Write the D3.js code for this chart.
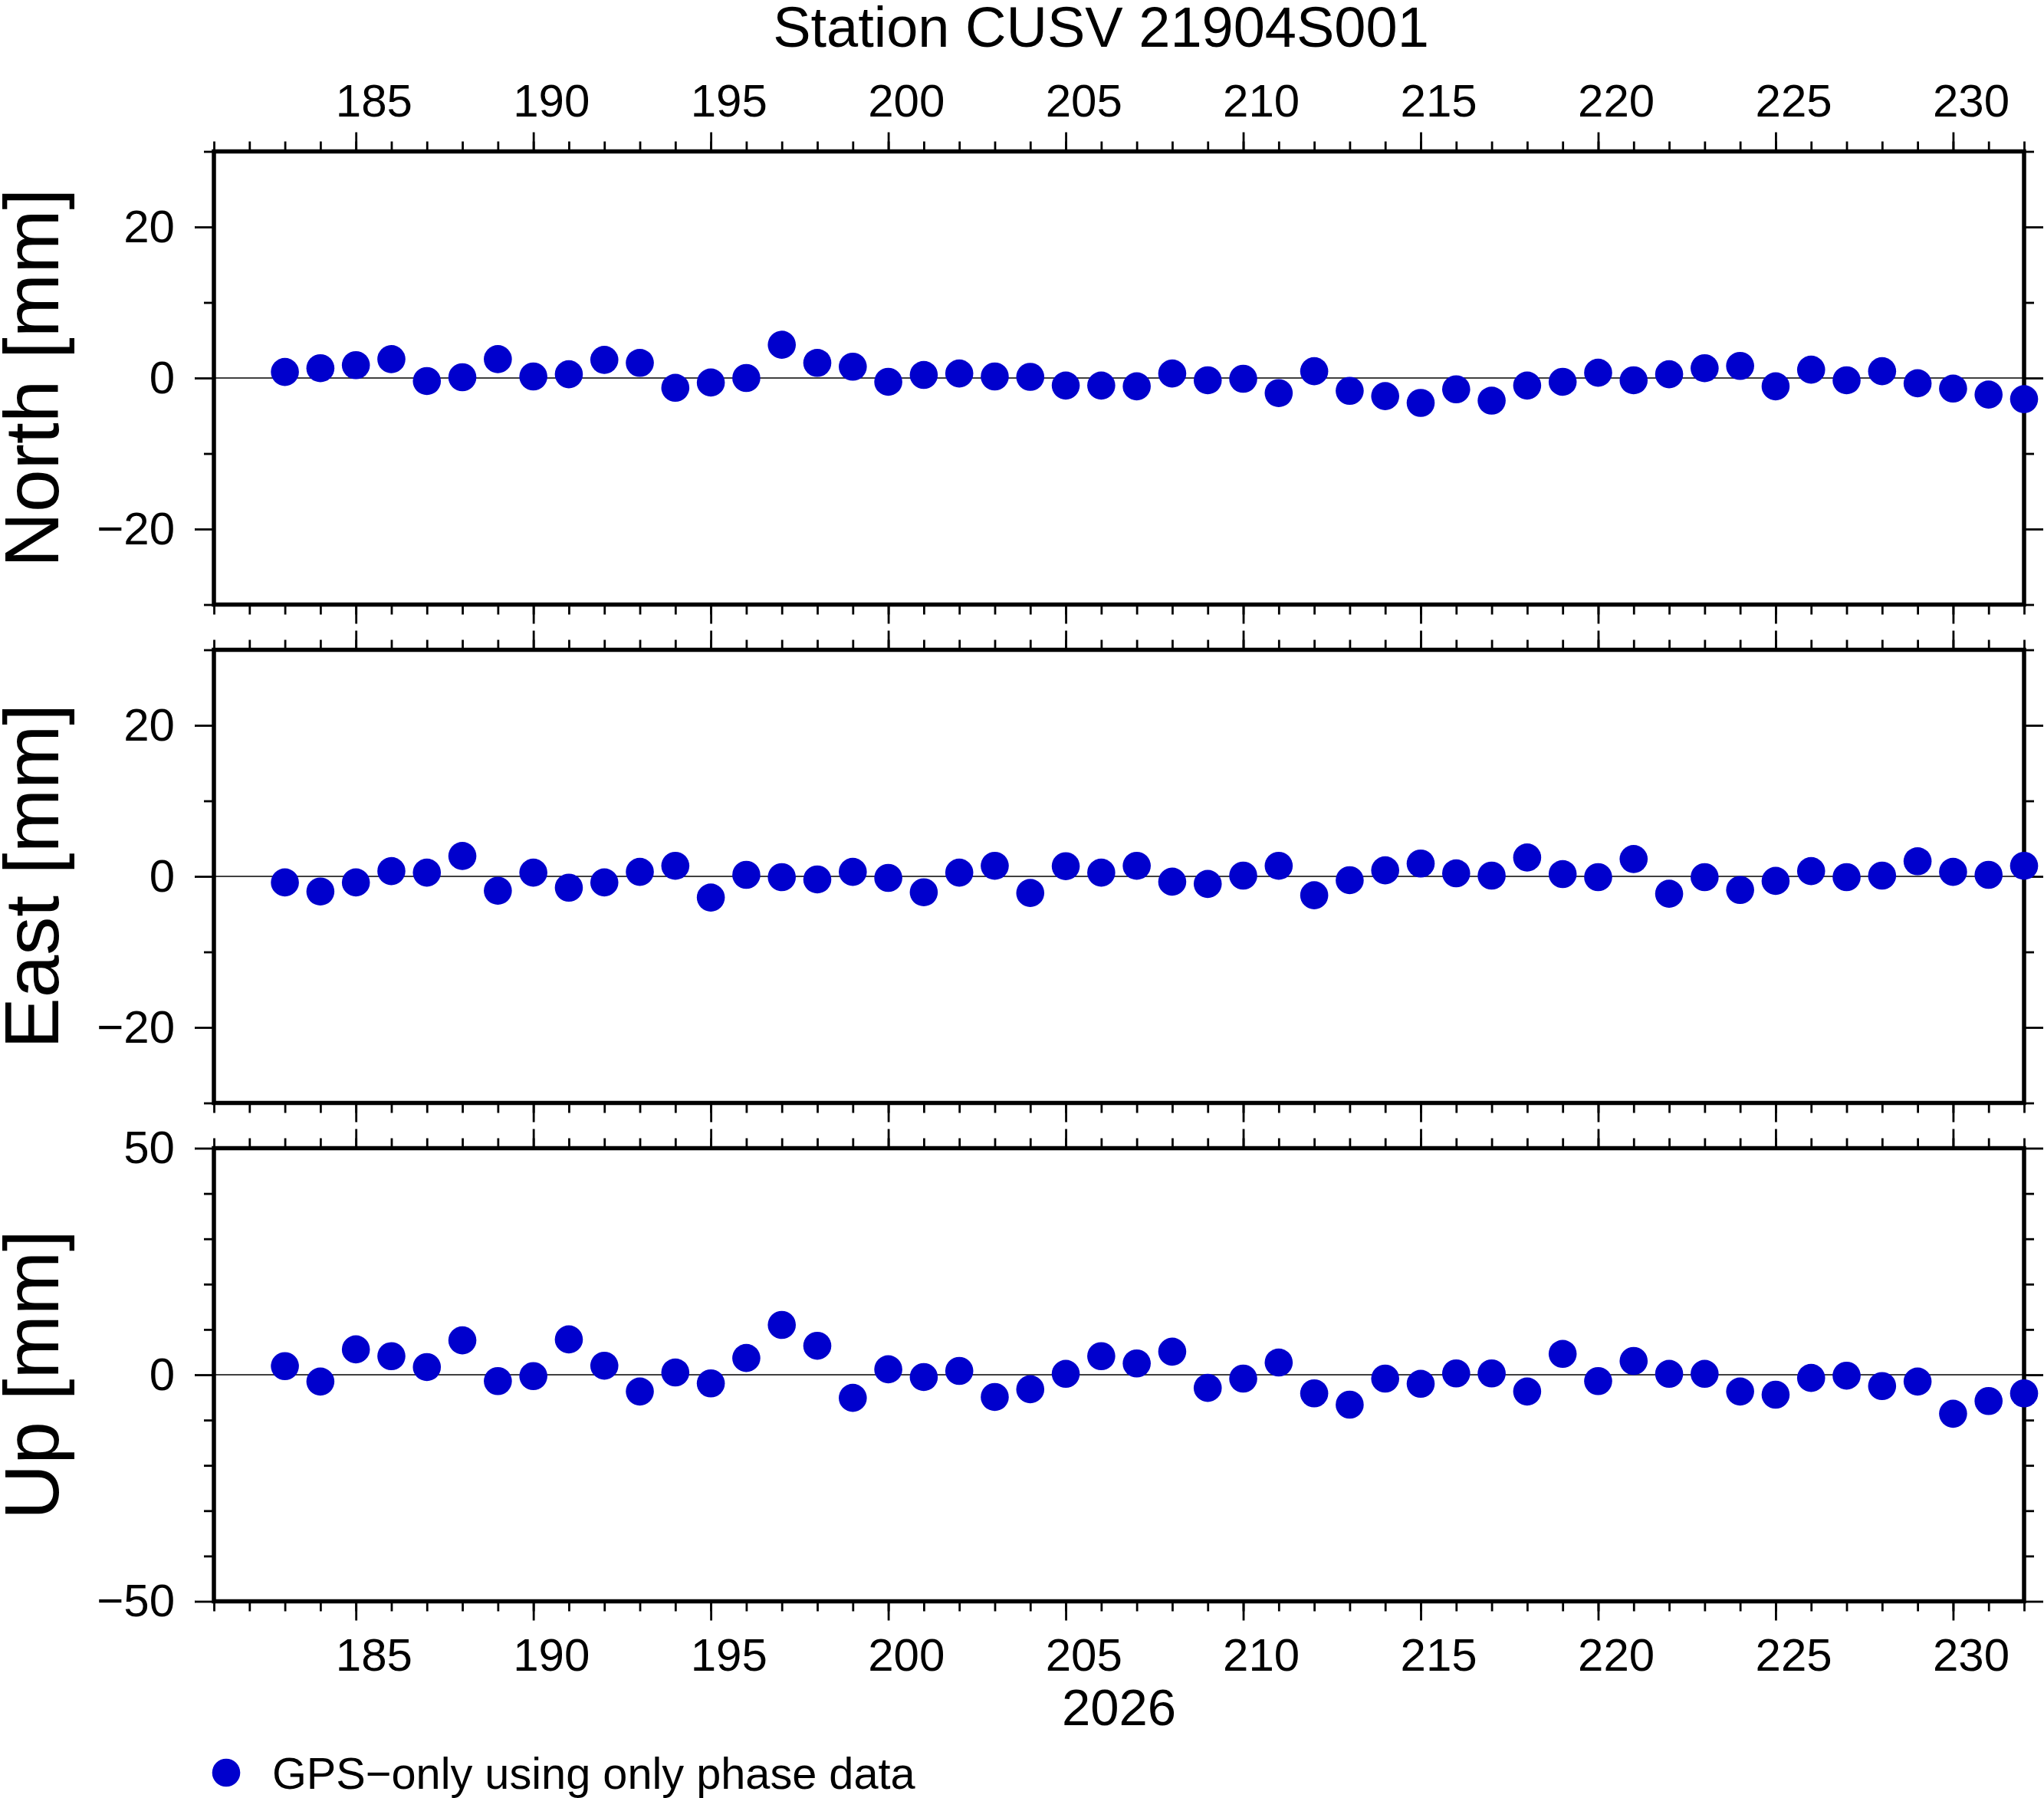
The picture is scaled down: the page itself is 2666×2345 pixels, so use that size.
<!DOCTYPE html>
<html><head><meta charset="utf-8">
<script src="https://cdn.jsdelivr.net/npm/d3@7"></script>
<style>body{margin:0;background:#fff}</style>
</head><body><div id="chart"></div>
<script>
// ---------------- data ----------------
const titleText = "Station CUSV 21904S001";
const days = [183,184,185,186,187,188,189,190,191,192,193,194,195,196,197,198,199,200,201,202,203,204,205,206,207,208,209,210,211,212,213,214,215,216,217,218,219,220,221,222,223,224,225,226,227,228,229,230,231,232];
const north = [0.8,1.3,1.7,2.5,-0.4,0.1,2.5,0.2,0.5,2.4,2.0,-1.3,-0.6,0.0,4.4,2.0,1.5,-0.5,0.4,0.6,0.2,0.15,-1.0,-1.0,-1.1,0.6,-0.3,-0.1,-2.0,0.9,-1.7,-2.4,-3.3,-1.5,-3.0,-1.0,-0.5,0.7,-0.3,0.5,1.3,1.6,-1.1,1.1,-0.3,0.9,-0.7,-1.4,-2.2,-2.8];
const east = [-0.8,-2.0,-0.8,0.7,0.5,2.7,-1.9,0.5,-1.5,-0.8,0.6,1.4,-2.8,0.2,-0.1,-0.4,0.6,-0.2,-2.1,0.5,1.4,-2.2,1.35,0.5,1.4,-0.7,-1.0,0.1,1.4,-2.5,-0.5,0.8,1.7,0.4,0.1,2.5,0.3,-0.1,2.3,-2.3,-0.1,-1.8,-0.6,0.7,-0.1,0.1,2.0,0.6,0.2,1.4];
const up = [1.9,-1.5,5.6,4.1,1.7,7.6,-1.4,-0.3,7.8,2.0,-3.7,0.5,-1.9,3.7,11.0,6.4,-5.1,1.2,-0.5,0.85,-4.9,-3.2,0.2,4.1,2.5,5.1,-2.9,-0.85,2.7,-4.1,-6.6,-0.85,-2.0,0.3,0.3,-3.7,4.6,-1.4,3.05,0.2,0.2,-3.7,-4.4,-0.7,-0.2,-2.5,-1.5,-8.6,-5.8,-4.1];
const xDomain = [181, 232];
const xMajorTicks = [185,190,195,200,205,210,215,220,225,230];
const xMinorTicks = [181,182,183,184,185,186,187,188,189,190,191,192,193,194,195,196,197,198,199,200,201,202,203,204,205,206,207,208,209,210,211,212,213,214,215,216,217,218,219,220,221,222,223,224,225,226,227,228,229,230,231,232];
const panelLabels = ["North [mm]", "East [mm]", "Up [mm]"];
const neDomain = [-30, 30], neMajor = [-20, 0, 20], neMinor = [-30, -10, 10, 30];
const upDomain = [-50, 50], upMajor = [-50, 0, 50], upMinor = [-40, -30, -20, -10, 10, 20, 30, 40];
const xAxisLabel = "2026";
const legendLabel = "GPS\u2212only using only phase data";

// ---------------- layout ----------------
const W = 2666, H = 2345;
const FONT = "'Liberation Sans', Helvetica, Arial, sans-serif";
const left = 279, right = 2640;
const panelTops = [197.5, 847.5, 1497.5];
const panelH = 591;
const dotColor = "#0000CD";

const svg = d3.select("#chart").append("svg")
  .attr("width", W).attr("height", H)
  .attr("viewBox", `0 0 ${W} ${H}`)
  .style("font-family", FONT);
svg.append("rect").attr("width", W).attr("height", H).attr("fill", "#fff");

const x = d3.scaleLinear().domain(xDomain).range([left, right]);
const fmt = d => d < 0 ? "\u2212" + Math.abs(d) : String(d);
// day annotations sit in the middle of the day interval
const labelShift = x(xDomain[0] + 0.5) - x(xDomain[0]);

const panels = [
  {label: panelLabels[0], values: north, domain: neDomain, major: neMajor, minor: neMinor},
  {label: panelLabels[1], values: east,  domain: neDomain, major: neMajor, minor: neMinor},
  {label: panelLabels[2], values: up,    domain: upDomain, major: upMajor, minor: upMinor}
];

function styleAxis(sel, showText, shift) {
  sel.select(".domain").remove();
  sel.selectAll(".tick line").attr("stroke", "#000").attr("stroke-width", 2.8);
  sel.selectAll(".tick text").attr("fill", "#000").style("font-size", "60px").style("font-family", FONT);
  if (shift) sel.selectAll(".tick text").attr("dx", shift);
  if (!showText) sel.selectAll(".tick text").remove();
}

panels.forEach((p, i) => {
  const top = panelTops[i];
  const g = svg.append("g").attr("transform", `translate(0,${top})`);
  const y = d3.scaleLinear().domain(p.domain).range([panelH, 0]);

  // zero line
  g.append("line")
    .attr("x1", x(xDomain[0])).attr("x2", x(xDomain[1]))
    .attr("y1", y(0)).attr("y2", y(0))
    .attr("stroke", "#000").attr("stroke-width", 1.4);

  // left axis
  g.append("g").attr("transform", `translate(${left},0)`)
    .call(d3.axisLeft(y).tickValues(p.minor).tickSize(13).tickSizeOuter(0).tickFormat(""))
    .call(s => styleAxis(s, false));
  g.append("g").attr("transform", `translate(${left},0)`)
    .call(d3.axisLeft(y).tickValues(p.major).tickSize(25).tickSizeOuter(0).tickPadding(26).tickFormat(fmt))
    .call(s => styleAxis(s, true));
  // right axis
  g.append("g").attr("transform", `translate(${right},0)`)
    .call(d3.axisRight(y).tickValues(p.minor).tickSize(13).tickSizeOuter(0).tickFormat(""))
    .call(s => styleAxis(s, false));
  g.append("g").attr("transform", `translate(${right},0)`)
    .call(d3.axisRight(y).tickValues(p.major).tickSize(25).tickSizeOuter(0).tickFormat(""))
    .call(s => styleAxis(s, false));

  // top axis
  g.append("g")
    .call(d3.axisTop(x).tickValues(xMinorTicks).tickSize(13).tickSizeOuter(0).tickFormat(""))
    .call(s => styleAxis(s, false));
  g.append("g")
    .call(d3.axisTop(x).tickValues(xMajorTicks).tickSize(25).tickSizeOuter(0).tickPadding(20.5).tickFormat(d3.format("d")))
    .call(s => styleAxis(s, i === 0, labelShift));
  // bottom axis
  g.append("g").attr("transform", `translate(0,${panelH})`)
    .call(d3.axisBottom(x).tickValues(xMinorTicks).tickSize(13).tickSizeOuter(0).tickFormat(""))
    .call(s => styleAxis(s, false));
  g.append("g").attr("transform", `translate(0,${panelH})`)
    .call(d3.axisBottom(x).tickValues(xMajorTicks).tickSize(25).tickSizeOuter(0).tickPadding(22.5).tickFormat(d3.format("d")))
    .call(s => styleAxis(s, i === 2, labelShift));

  // frame
  g.append("rect")
    .attr("x", left).attr("y", 0)
    .attr("width", right - left).attr("height", panelH)
    .attr("fill", "none").attr("stroke", "#000").attr("stroke-width", 5.5);

  // dots
  g.selectAll("circle.dot").data(days.map((d, k) => ({day: d, v: p.values[k]})))
    .enter().append("circle").attr("class", "dot")
    .attr("cx", d => x(d.day)).attr("cy", d => y(d.v))
    .attr("r", 18.3).attr("fill", dotColor);

  // y label
  svg.append("text")
    .attr("transform", `translate(76,${top + panelH / 2}) rotate(-90)`)
    .attr("text-anchor", "middle")
    .style("font-size", "100px").attr("fill", "#000")
    .text(p.label);
});

// title
svg.append("text")
  .attr("x", 1436).attr("y", 61)
  .attr("text-anchor", "middle")
  .style("font-size", "74px").attr("fill", "#000")
  .text(titleText);

// x-axis label
svg.append("text")
  .attr("x", (left + right) / 2).attr("y", 2250)
  .attr("text-anchor", "middle")
  .style("font-size", "67px").attr("fill", "#000")
  .text(xAxisLabel);

// legend
svg.append("circle").attr("cx", 295).attr("cy", 2312).attr("r", 18.3).attr("fill", dotColor);
svg.append("text")
  .attr("x", 355).attr("y", 2333)
  .style("font-size", "57.7px").attr("fill", "#000")
  .text(legendLabel);
</script>
</body></html>
